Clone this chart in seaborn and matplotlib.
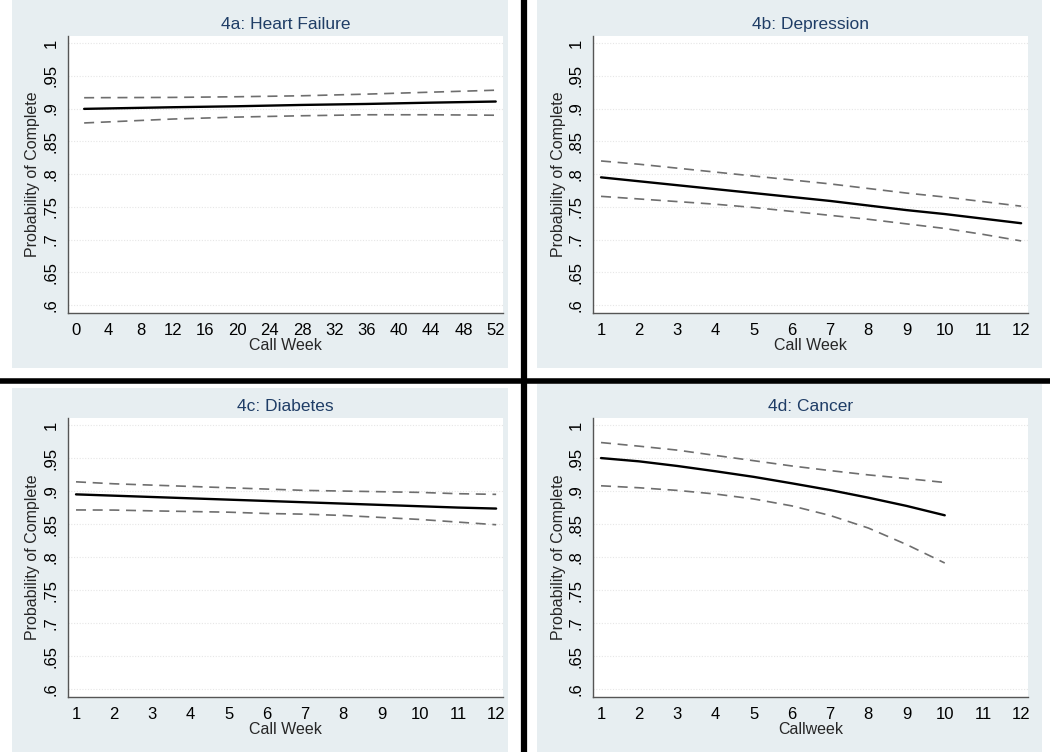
import numpy as np
import pandas as pd
import seaborn as sns
import matplotlib.pyplot as plt
from matplotlib.patches import Rectangle
from matplotlib.lines import Line2D

# ---- data ----
hf_week = [1, 12, 20, 28, 36, 44, 52]
hf_fit = [0.8995, 0.902, 0.9035, 0.9055, 0.907, 0.909, 0.9107]
hf_upper = [0.9165, 0.917, 0.918, 0.9195, 0.922, 0.925, 0.928]
hf_lower = [0.878, 0.884, 0.887, 0.889, 0.8905, 0.8905, 0.8898]

dep_week = [1, 2, 3, 4, 5, 6, 7, 8, 9, 10, 11, 12]
dep_fit = [0.795, 0.789, 0.783, 0.777, 0.771, 0.765, 0.759, 0.752, 0.745, 0.739, 0.732, 0.725]
dep_upper = [0.820, 0.815, 0.809, 0.803, 0.797, 0.791, 0.785, 0.778, 0.771, 0.765, 0.758, 0.751]
dep_lower = [0.766, 0.762, 0.758, 0.754, 0.749, 0.743, 0.737, 0.731, 0.724, 0.717, 0.708, 0.698]

dia_week = [1, 2, 3, 4, 5, 6, 7, 8, 9, 10, 11, 12]
dia_fit = [0.895, 0.893, 0.891, 0.889, 0.887, 0.885, 0.883, 0.881, 0.879, 0.877, 0.875, 0.8735]
dia_upper = [0.914, 0.911, 0.909, 0.907, 0.905, 0.903, 0.901, 0.900, 0.899, 0.898, 0.896, 0.895]
dia_lower = [0.8714, 0.8712, 0.870, 0.869, 0.868, 0.866, 0.865, 0.863, 0.860, 0.857, 0.853, 0.849]

can_week = [1, 2, 3, 4, 5, 6, 7, 8, 9, 10]
can_fit = [0.950, 0.945, 0.938, 0.930, 0.9215, 0.9117, 0.9015, 0.890, 0.8775, 0.8633]
can_upper = [0.9735, 0.968, 0.962, 0.954, 0.946, 0.938, 0.931, 0.9245, 0.919, 0.913]
can_lower = [0.908, 0.905, 0.901, 0.8955, 0.888, 0.8775, 0.863, 0.844, 0.819, 0.791]

titles = ["4a: Heart Failure", "4b: Depression", "4c: Diabetes", "4d: Cancer"]
xlabels = ["Call Week", "Call Week", "Call Week", "Callweek"]
ylabel = "Probability of Complete"
ytick_vals = [0.6, 0.65, 0.7, 0.75, 0.8, 0.85, 0.9, 0.95, 1.0]
ytick_labels = [".6", ".65", ".7", ".75", ".8", ".85", ".9", ".95", "1"]
hf_xticks = [0, 4, 8, 12, 16, 20, 24, 28, 32, 36, 40, 44, 48, 52]
week_xticks = [1, 2, 3, 4, 5, 6, 7, 8, 9, 10, 11, 12]

sns.set_style("white")
plt.rcParams['font.family'] = ['Liberation Sans', 'DejaVu Sans']

W, H = 1050, 752
fig = plt.figure(figsize=(W / 100, H / 100), dpi=100)
fig.patch.set_facecolor("white")

BG = "#e7eef1"
NAVY = "#1f3d66"


def px_rect(x0, y0, x1, y1):
    # pixel box (top-left origin) -> figure fraction [left, bottom, width, height]
    return [x0 / W, 1 - y1 / H, (x1 - x0) / W, (y1 - y0) / H]


# grey panel backgrounds
for box in [(12, 0, 508, 368), (537, 0, 1042, 368), (12, 388, 508, 752), (537, 384, 1042, 752)]:
    l, b, w, h = px_rect(*box)
    fig.add_artist(Rectangle((l, b), w, h, transform=fig.transFigure,
                             facecolor=BG, edgecolor="none", zorder=0))

# black separators
fig.add_artist(Line2D([524 / W, 524 / W], [0, 1], transform=fig.transFigure,
                      color="black", linewidth=4.5, zorder=1))
fig.add_artist(Line2D([0, 1], [1 - 380.5 / H, 1 - 380.5 / H], transform=fig.transFigure,
                      color="black", linewidth=4.0, zorder=1))

panels = [
    (px_rect(68, 36, 503, 313), hf_week, hf_fit, hf_upper, hf_lower, hf_xticks, (-1.0, 52.9)),
    (px_rect(593, 36, 1028, 313), dep_week, dep_fit, dep_upper, dep_lower, week_xticks, (0.79, 12.18)),
    (px_rect(68, 418, 503, 697), dia_week, dia_fit, dia_upper, dia_lower, week_xticks, (0.79, 12.18)),
    (px_rect(593, 418, 1028, 697), can_week, can_fit, can_upper, can_lower, week_xticks, (0.79, 12.18)),
]

for i, (rect, wk, fit, up, lo, xt, xl) in enumerate(panels):
    ax = fig.add_axes(rect, zorder=2)
    ax.set_facecolor("white")
    df = pd.DataFrame({"week": wk, "fit": fit, "upper": up, "lower": lo})

    for yv in ytick_vals:
        ax.axhline(yv, color="#e6e6e6", linewidth=0.8, linestyle=(0, (1, 1.5)), zorder=0)

    sns.lineplot(data=df, x="week", y="upper", ax=ax, color="#6e6e6e",
                 linewidth=1.2, linestyle=(0, (6, 4)))
    sns.lineplot(data=df, x="week", y="lower", ax=ax, color="#6e6e6e",
                 linewidth=1.2, linestyle=(0, (6, 4)))
    sns.lineplot(data=df, x="week", y="fit", ax=ax, color="black", linewidth=1.7)

    ax.set_xlim(*xl)
    ax.set_ylim(0.588, 1.0107)
    ax.set_xticks(xt)
    ax.set_xticklabels([str(v) for v in xt], fontsize=12)
    ax.set_yticks(ytick_vals)
    ax.set_yticklabels(ytick_labels, fontsize=12, rotation=90, va="center")

    ax.set_title(titles[i], fontsize=12.5, color=NAVY, pad=5)
    ax.set_xlabel(xlabels[i], fontsize=11.5, labelpad=0)
    ax.set_ylabel(ylabel, fontsize=11.5, labelpad=2)

    sns.despine(ax=ax)
    for side in ["left", "bottom"]:
        ax.spines[side].set_color("#555555")
        ax.spines[side].set_linewidth(1.0)
    ax.tick_params(axis="both", direction="out", length=5, width=1.0,
                   color="#555555", pad=2, labelcolor="black")

fig.savefig("out.png", dpi=100, facecolor=fig.get_facecolor())
